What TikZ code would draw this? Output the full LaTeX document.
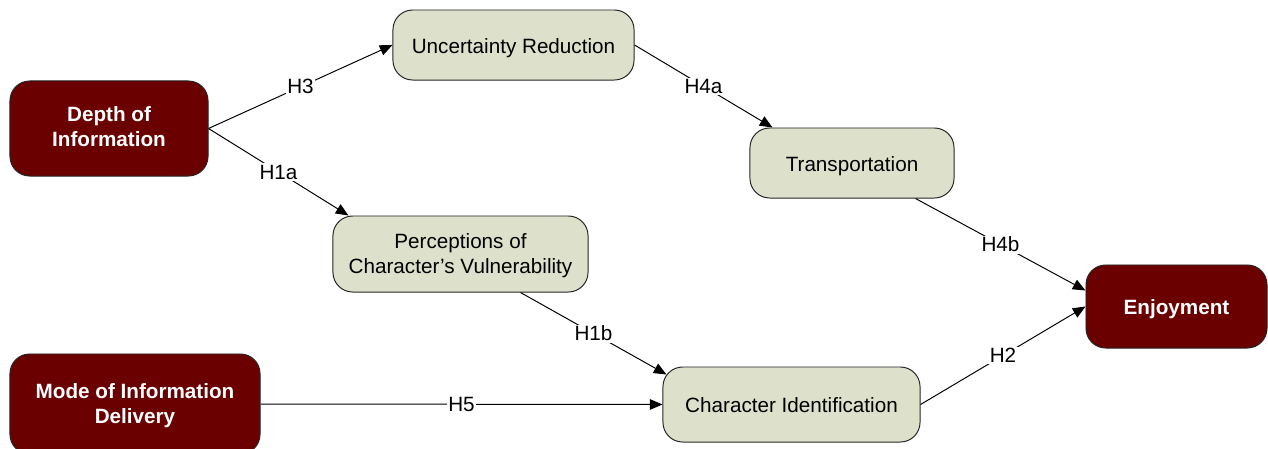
\documentclass[tikz,border=0pt]{standalone}
\usepackage{fontspec}
\setmainfont{Liberation Sans}
\usetikzlibrary{calc,arrows.meta}
\definecolor{darkmaroon}{HTML}{6B0000}
\definecolor{palesage}{HTML}{DDE0CA}
\tikzset{
  factorbox/.style={draw=black!85, line width=0.7pt, rounded corners=14pt, align=center, inner sep=0pt, text depth=0pt, text height=11.7pt},
  twolines/.style={text height=#1},
  twolines/.default=28pt,
  darkbox/.style={factorbox, fill=darkmaroon, text=white, font=\fontsize{14.7}{17.7}\selectfont\bfseries},
  palebox/.style={factorbox, fill=palesage, font=\fontsize{14.7}{17.7}\selectfont},
  link/.style={-{Triangle[length=9pt,width=7.5pt]}, line width=0.7pt},
  hyp/.style={fill=white, inner sep=1pt, font=\fontsize{14.7}{17.7}\selectfont}
}
\begin{document}
\begin{tikzpicture}[x=0.025cm, y=-0.025cm]
    \useasboundingbox (0,0) rectangle (1268,448);
    \node[darkbox, twolines=25.5pt, minimum width=4.95cm, minimum height=2.375cm] (depth) at (109,128.5) {Depth of\\Information};
    \node[darkbox, twolines, minimum width=6.25cm, minimum height=2.5cm] (mode) at (135,404) {Mode of Information\\Delivery};
    \node[darkbox, minimum width=4.525cm, minimum height=2.075cm] (enjoy) at (1176.5,306.5) {Enjoyment};
    \node[palebox, minimum width=6.025cm, minimum height=1.75cm] (uncert) at (513.5,45) {Uncertainty Reduction};
    \node[palebox, minimum width=5.1cm, minimum height=1.75cm] (transp) at (852,163) {Transportation};
    \node[palebox, twolines, minimum width=6.375cm, minimum height=1.9cm] (vuln) at (460.5,254) {Perceptions of\\Character’s Vulnerability};
    \node[palebox, minimum width=6.425cm, minimum height=1.875cm] (ident) at (791.5,404.5) {Character Identification};
    \draw[link] (depth.east) -- node[hyp] {H3} (uncert.west);
    \draw[link] (depth.east) -- node[hyp] {H1a} ($(vuln.north west)+(16,0)$);
    \draw[link] (uncert.east) -- node[hyp] {H4a} ($(transp.north west)+(23,0)$);
    \draw[link] ($(transp.south east)+(-39,0)$) -- node[hyp] {H4b} ($(enjoy.west)+(0,-16)$);
    \draw[link] ($(vuln.south)+(60,0)$) -- node[hyp] {H1b} ($(ident.north west)+(4,8)$);
    \draw[link] (mode.east) -- node[hyp] {H5} (ident.west);
    \draw[link] (ident.east) -- node[hyp] {H2} (enjoy.west);
\end{tikzpicture}
\end{document}
